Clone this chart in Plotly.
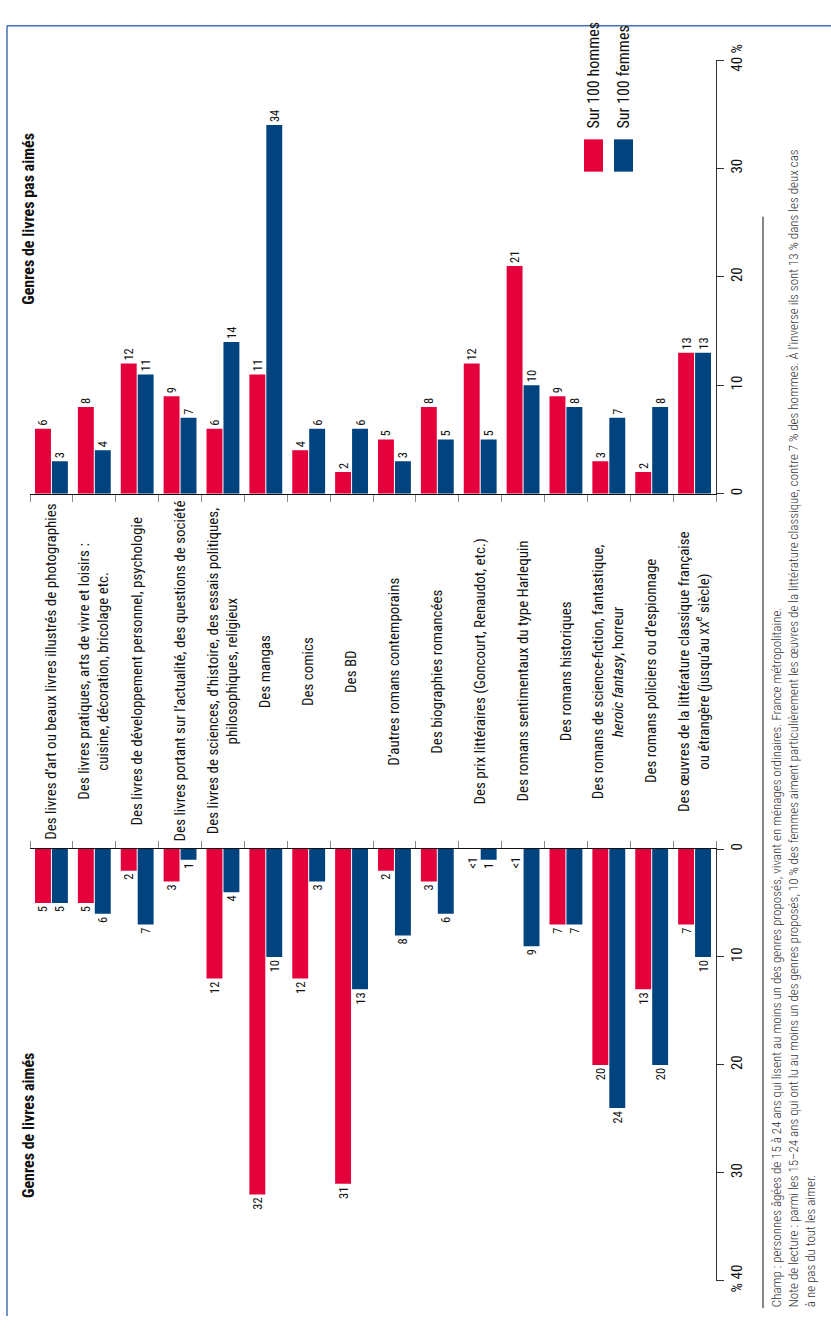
import plotly.graph_objects as go

categories = [
    "Des livres d’art ou beaux livres illustrés de photographies",
    "Des livres pratiques, arts de vivre et loisirs :<br>cuisine, décoration, bricolage etc.",
    "Des livres de développement personnel, psychologie",
    "Des livres portant sur l’actualité, des questions de société",
    "Des livres de sciences, d’histoire, des essais politiques,<br>philosophiques, religieux",
    "Des mangas",
    "Des comics",
    "Des BD",
    "D’autres romans contemporains",
    "Des biographies romancées",
    "Des prix littéraires (Goncourt, Renaudot, etc.)",
    "Des romans sentimentaux du type Harlequin",
    "Des romans historiques",
    "Des romans de science-fiction, fantastique,<br><i>heroic fantasy</i>, horreur",
    "Des romans policiers ou d’espionnage",
    "Des œuvres de la littérature classique française<br>ou étrangère (jusqu’au <span style='font-size:12px'>XX</span><sup>e</sup> siècle)",
]

# Genres de livres pas aimés
notliked_men = [6, 8, 12, 9, 6, 11, 4, 2, 5, 8, 12, 21, 9, 3, 2, 13]
notliked_women = [3, 4, 11, 7, 14, 34, 6, 6, 3, 5, 5, 10, 8, 7, 8, 13]

# Genres de livres aimés ("<1" shown where value is below 1)
liked_men = [5, 5, 2, 3, 12, 32, 12, 31, 2, 3, 0, 0, 7, 20, 13, 7]
liked_men_labels = ["5", "5", "2", "3", "12", "32", "12", "31", "2", "3", "<1", "<1", "7", "20", "13", "7"]
liked_women = [5, 6, 7, 1, 4, 10, 3, 13, 8, 6, 1, 9, 7, 24, 20, 10]

axis_ticks = [0, 10, 20, 30, 40]
top_ticktext = ["0", "10", "20", "30", "40 %"]
bottom_ticktext = ["0", "10", "20", "30", "% 40"]

RED = "#E3003B"
BLUE = "#00437F"
FONT = "Roboto Condensed, Liberation Sans Narrow, DejaVu Sans Condensed, sans-serif"

W, H = 831, 1328


def px(x):
    return x / W


def py(y):
    return 1 - y / H


fig = go.Figure()

men_liked_text = [lab if v > 0 else "" for v, lab in zip(liked_men, liked_men_labels)]

for vals, col, name, labels, xa, ya in [
    (notliked_men, RED, "Sur 100 hommes", [str(v) for v in notliked_men], "x", "y"),
    (notliked_women, BLUE, "Sur 100 femmes", [str(v) for v in notliked_women], "x", "y"),
    (liked_men, RED, "Sur 100 hommes", men_liked_text, "x2", "y2"),
    (liked_women, BLUE, "Sur 100 femmes", [str(v) for v in liked_women], "x2", "y2"),
]:
    fig.add_trace(go.Bar(
        x=categories, y=vals, name=name, marker_color=col, marker_line_width=0,
        text=labels, textposition="outside", textangle=-90, cliponaxis=False,
        constraintext="none",
        textfont=dict(family=FONT, size=12.5, color="#111"),
        xaxis=xa, yaxis=ya, showlegend=False,
    ))

xdom = [px(30), px(716)]
xcommon = dict(
    domain=xdom, type="category", range=[-0.5, 15.5], showline=True, linecolor="#111",
    linewidth=1, ticks="outside", tickson="boundaries", ticklen=7, tickcolor="#888",
    tickwidth=1, showticklabels=False, showgrid=False, zeroline=False, fixedrange=True,
)
ycommon = dict(
    side="right", tickvals=axis_ticks, tickangle=-90, ticks="outside", ticklen=7,
    tickcolor="#333", showline=True, linecolor="#333", linewidth=1, showgrid=False,
    zeroline=False, tickfont=dict(family=FONT, size=15, color="#111"),
)

fig.update_layout(
    width=W, height=H, margin=dict(l=0, r=0, t=0, b=0),
    paper_bgcolor="white", plot_bgcolor="white",
    barmode="group", bargap=0.21, bargroupgap=0.06,
    font=dict(family=FONT, size=15, color="#111"),
    xaxis=dict(anchor="y", side="bottom", **xcommon),
    xaxis2=dict(anchor="y2", side="top", **xcommon),
    yaxis=dict(anchor="x", domain=[py(488), py(45)], range=[0, 40],
               ticktext=top_ticktext, **ycommon),
    yaxis2=dict(anchor="x2", domain=[py(1292), py(851)], range=[40, 0],
                ticktext=bottom_ticktext, **ycommon),
)

annotations = []
# "<1" labels for bars below one
for c, v, lab in zip(categories, liked_men, liked_men_labels):
    if v == 0:
        annotations.append(dict(
            x=c, xref="x2", y=0, yref="y2", text=lab, textangle=-90, showarrow=False,
            xanchor="center", yanchor="top", xshift=-8.5, yshift=-6,
            font=dict(family=FONT, size=12.5, color="#111"),
        ))
# category labels
for c in categories:
    annotations.append(dict(
        x=c, xref="x", y=py(669.5), yref="paper", text=c, textangle=-90,
        showarrow=False, xanchor="center", yanchor="middle", align="center",
        font=dict(family=FONT, size=15, color="#111"),
    ))
# titles
annotations.append(dict(
    x=px(29), y=py(297), xref="paper", yref="paper", text="<b>Genres de livres pas aimés</b>",
    textangle=-90, showarrow=False, xanchor="center", yanchor="bottom",
    font=dict(family=FONT, size=16, color="#111"),
))
annotations.append(dict(
    x=px(29), y=py(1210), xref="paper", yref="paper", text="<b>Genres de livres aimés</b>",
    textangle=-90, showarrow=False, xanchor="center", yanchor="bottom",
    font=dict(family=FONT, size=16, color="#111"),
))
# legend
for xc, label in [(593.5, "Sur 100 hommes"), (623.5, "Sur 100 femmes")]:
    annotations.append(dict(
        x=px(xc), y=py(117), xref="paper", yref="paper", text=label, textangle=-90,
        showarrow=False, xanchor="center", yanchor="bottom",
        font=dict(family=FONT, size=16, color="#111"),
    ))
# notes
notes = (
    "Champ : personnes âgées de 15 à 24 ans qui lisent au moins un des genres proposés, vivant en ménages ordinaires. France métropolitaine.<br>"
    "Note de lecture : parmi les 15–24 ans qui ont lu au moins un des genres proposés, 10 % des femmes aiment particulièrement les œuvres de la littérature classique, contre 7 % des hommes. À l’inverse ils sont 13 % dans les deux cas<br>"
    "à ne pas du tout les aimer."
)
annotations.append(dict(
    x=px(793), y=py(1321), xref="paper", yref="paper", text=notes, textangle=-90,
    showarrow=False, xanchor="center", yanchor="bottom", align="left",
    font=dict(family=FONT, size=13, color="#333", weight=300),
))
fig.update_layout(annotations=annotations)

shapes = [
    # legend swatches
    dict(type="rect", xref="paper", yref="paper", x0=px(584), x1=px(603), y0=py(159), y1=py(126),
         fillcolor=RED, line_width=0),
    dict(type="rect", xref="paper", yref="paper", x0=px(614), x1=px(633), y0=py(159), y1=py(126),
         fillcolor=BLUE, line_width=0),
    # note separator
    dict(type="line", xref="paper", yref="paper", x0=px(763), x1=px(763), y0=py(205), y1=py(1320),
         line=dict(color="#111", width=1)),
    # frame
    dict(type="line", xref="paper", yref="paper", x0=px(7), x1=1, y0=py(10), y1=py(10),
         line=dict(color="#4472B0", width=1.5)),
    dict(type="line", xref="paper", yref="paper", x0=px(7), x1=px(7), y0=py(10), y1=0,
         line=dict(color="#4472B0", width=1.5)),
]
fig.update_layout(shapes=shapes)

fig.write_html("out.html", config={"displayModeBar": False},
               post_script="document.body.style.margin='0';")
